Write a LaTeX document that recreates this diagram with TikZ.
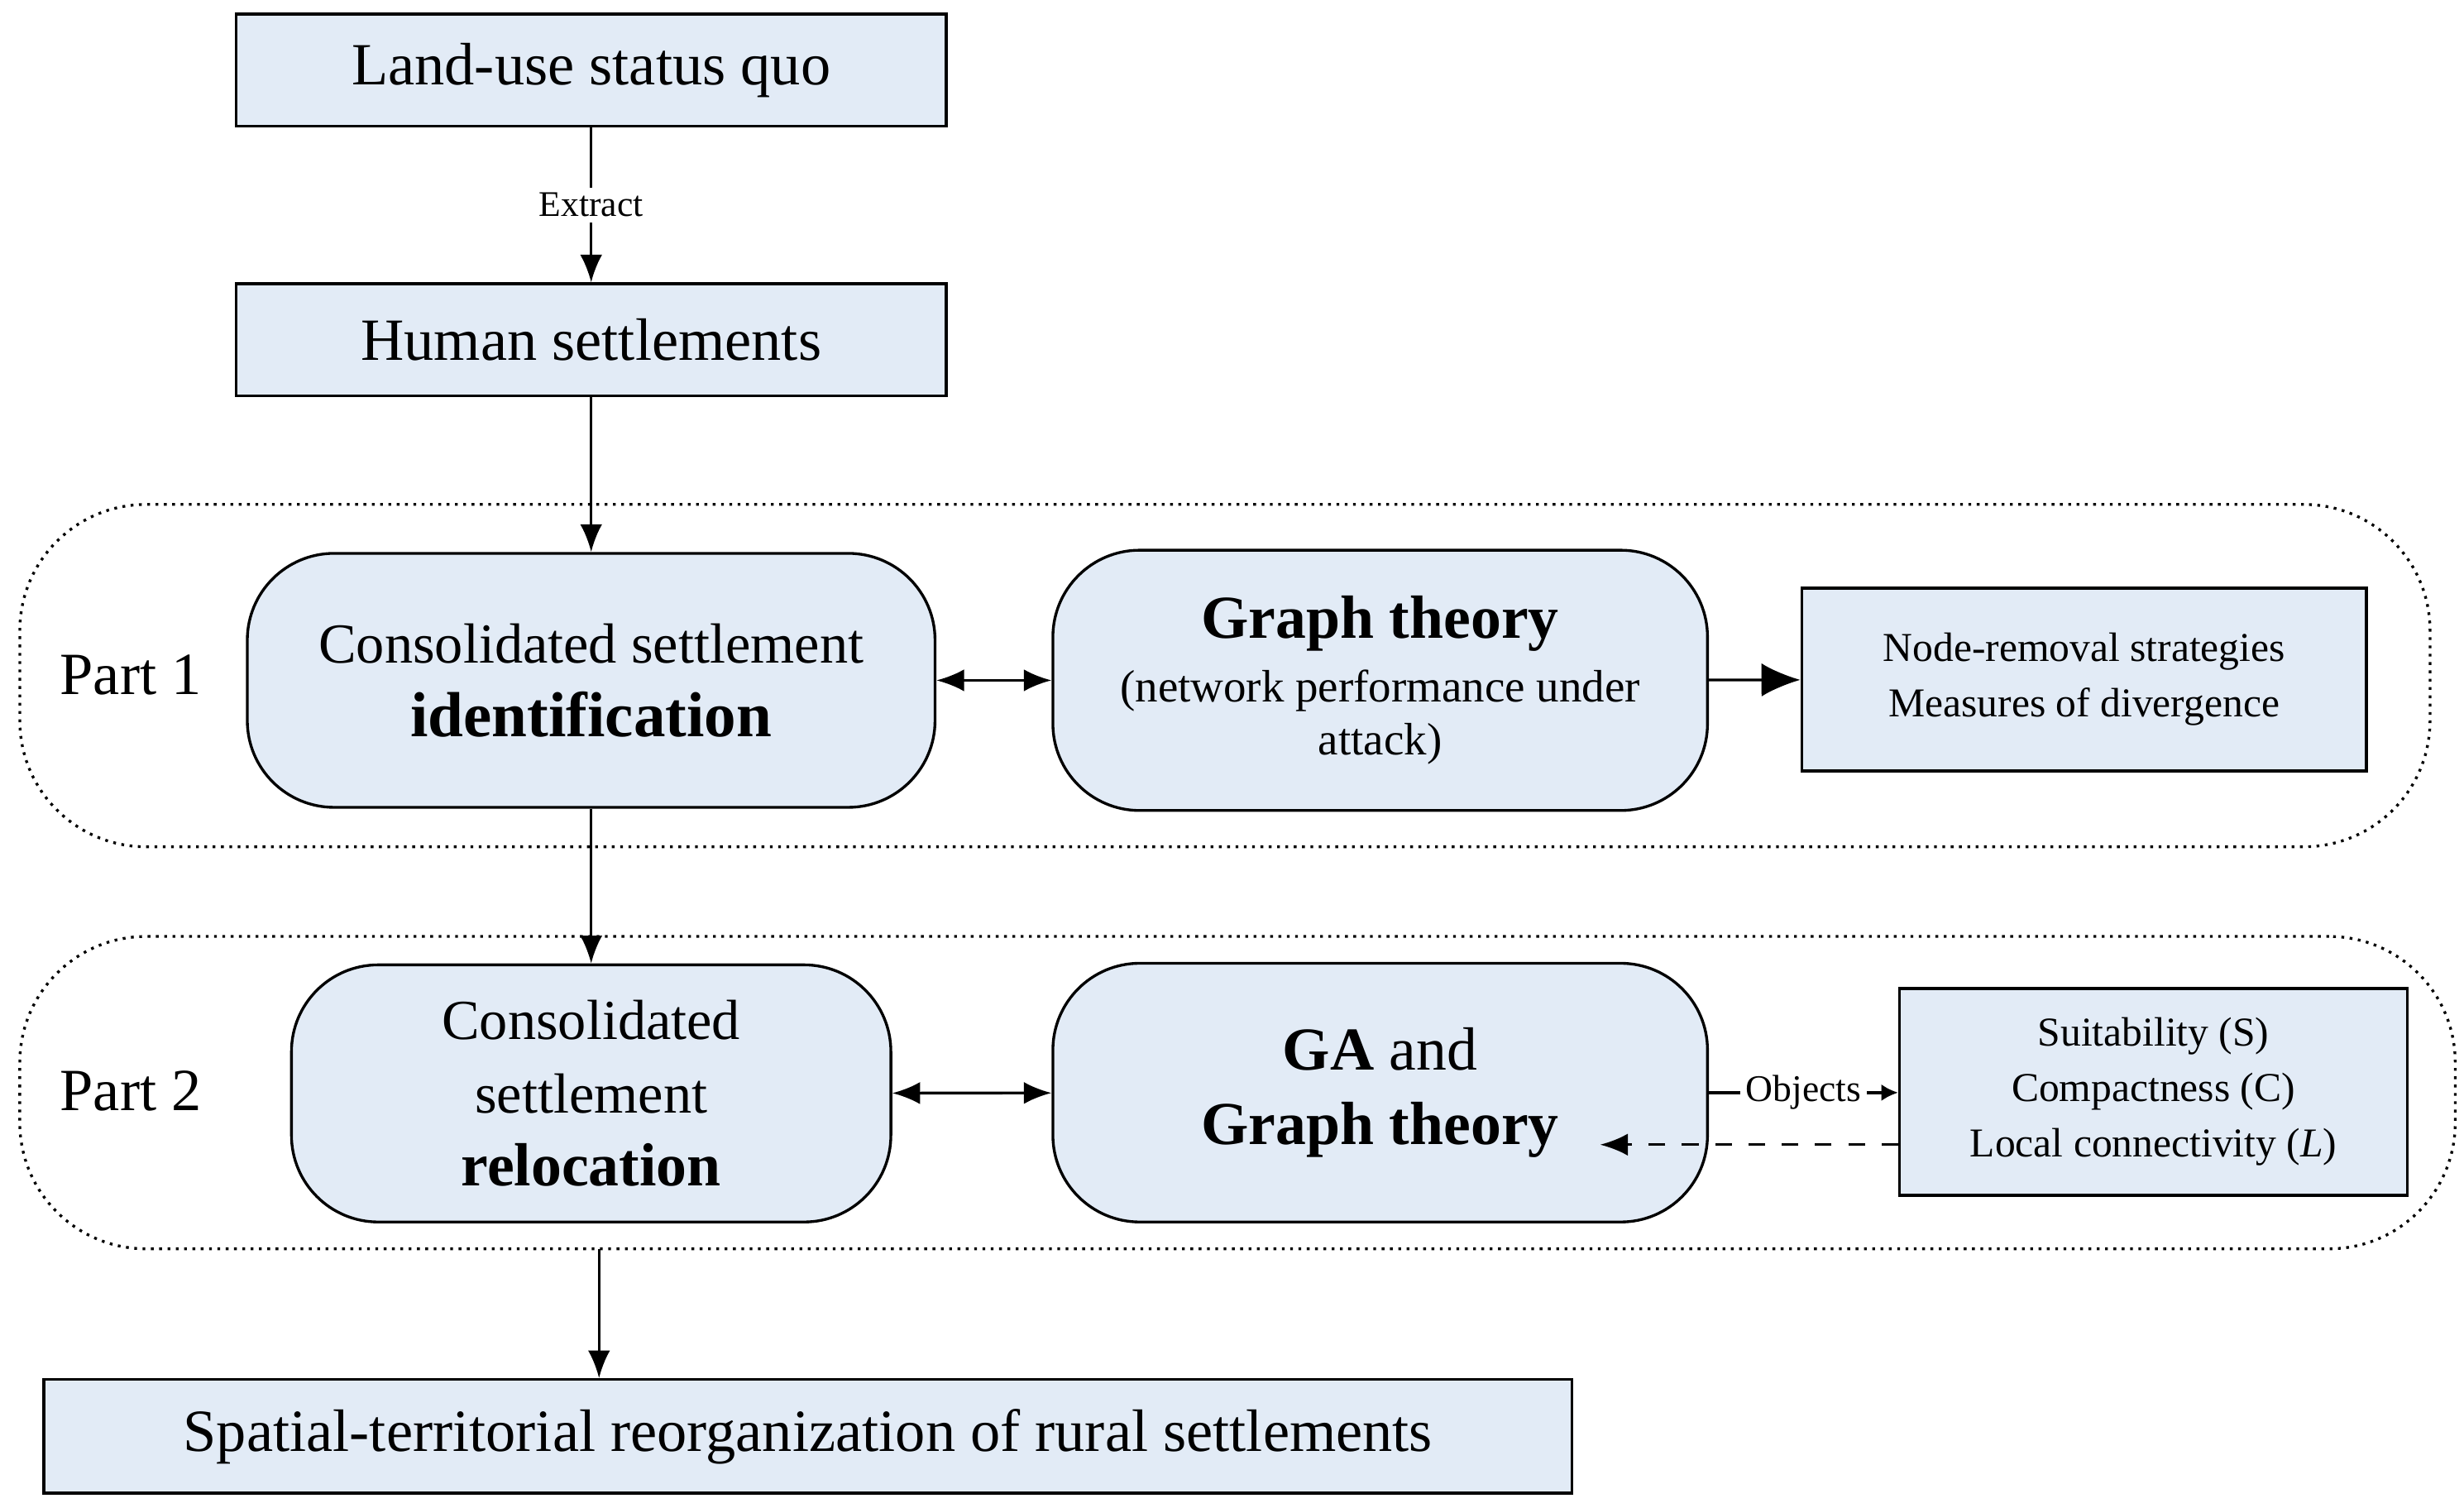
\documentclass[tikz,border=0pt]{standalone}
\usepackage{fontspec}
\setmainfont{Liberation Serif}
\usetikzlibrary{arrows.meta}
\definecolor{bx}{RGB}{226,235,246}
\begin{document}
\begin{tikzpicture}[x=0.01cm,y=-0.01cm,
 sq/.style={draw,fill=bx,line width=0.5pt,inner sep=0pt,align=center},
 rd/.style={draw,fill=bx,line width=0.5pt,rounded corners=0.55cm,inner sep=0pt,align=center},
 grp/.style={draw,densely dotted,line width=0.5pt,rounded corners=0.8cm},
 big/.style={font=\fontsize{10.8}{13}\selectfont},
 mid/.style={font=\fontsize{10.2}{13.2}\selectfont},
 sm/.style={font=\fontsize{7.4}{10}\selectfont},
 arr/.style={-{Latex[length=5pt,width=4pt]},line width=0.5pt}]
\useasboundingbox (0,0) rectangle (1563,956);
\node[grp,minimum width=15.28cm,minimum height=2.17cm] (p1) at (777,428.5) {};
\node[grp,minimum width=15.44cm,minimum height=1.98cm] (p2) at (785,693) {};
\node[big] (l1) at (83,428) {Part 1};
\node[big] (l2) at (83,692) {Part 2};
\node[sq,big,minimum width=4.5cm,minimum height=0.71cm] (a) at (375,44.5) {Land-use status quo};
\node[sq,big,minimum width=4.5cm,minimum height=0.71cm] (b) at (375,215.5) {Human settlements};
\node[rd,mid,minimum width=4.36cm,minimum height=1.61cm] (c) at (375,431.5) {Consolidated settlement\\\textbf{\fontsize{11.5}{13}\selectfont identification}};
\node[rd,font=\fontsize{8.2}{9.5}\selectfont,minimum width=4.15cm,minimum height=1.65cm] (d) at (875.5,431.5) {\textbf{\fontsize{11}{13}\selectfont Graph theory}\\[2pt](network performance under\\attack)};
\node[sq,sm,minimum width=3.58cm,minimum height=1.16cm] (e) at (1322,431) {Node-removal strategies\\Measures of divergence};
\node[rd,mid,minimum width=3.8cm,minimum height=1.63cm] (f) at (375,693.5) {Consolidated\\settlement\\\textbf{\fontsize{11}{13}\selectfont relocation}};
\node[rd,font=\fontsize{11}{13.5}\selectfont,minimum width=4.15cm,minimum height=1.64cm] (g) at (875.5,693) {\textbf{GA} and\\\textbf{Graph theory}};
\node[sq,sm,minimum width=3.22cm,minimum height=1.31cm] (h) at (1366,692.5) {Suitability (S)\\Compactness (C)\\Local connectivity (\textit{L})};
\node[sq,big,minimum width=9.69cm,minimum height=0.72cm] (i) at (512.5,911) {Spatial-territorial reorganization of rural settlements};
\draw[arr] (a) -- node[fill=white,inner sep=1pt,font=\fontsize{6.5}{8}\selectfont]{Extract} (b);
\draw[arr] (b) -- (c);
\draw[arr] (c) -- (f);
\draw[{Latex[length=5pt,width=4pt]}-{Latex[length=5pt,width=4pt]},line width=0.5pt] (c) -- (d);
\draw[-{Latex[length=7pt,width=6pt]},line width=0.5pt] (d) -- (e);
\draw[{Latex[length=5pt,width=4pt]}-{Latex[length=5pt,width=4pt]},line width=0.5pt] (f) -- (g);
\draw[-{Latex[length=3pt,width=3pt]},line width=0.5pt] (g.east) -- node[fill=white,inner sep=1pt,font=\fontsize{6.8}{8}\selectfont]{Objects} (h.west|-g.east);
\coordinate (gd) at (1015,726);
\draw[arr,dashed] (h.west|-gd) -- (gd);
\coordinate (p2b) at (380,792);
\draw[arr] (p2b) -- (i.north-|p2b);
\end{tikzpicture}
\end{document}
